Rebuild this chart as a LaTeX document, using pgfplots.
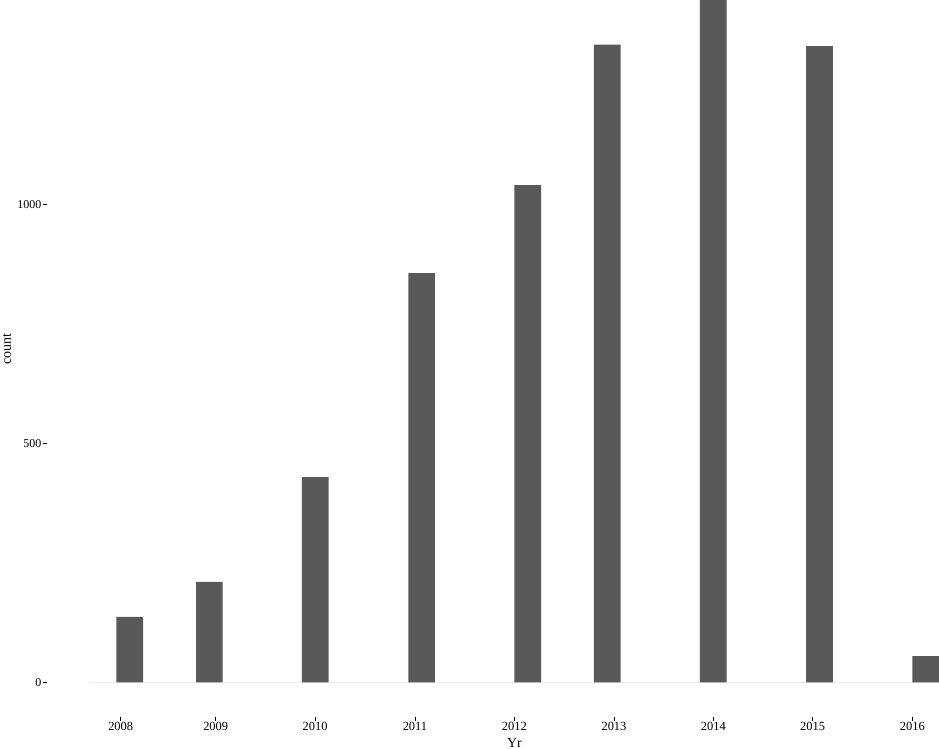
\documentclass[border=0pt]{standalone}
\usepackage{fontspec}
\setmainfont{Liberation Serif}
\usepackage{pgfplots}
\pgfplotsset{compat=1.18}
\definecolor{barfill}{HTML}{595959}
\definecolor{zeroline}{HTML}{EBEBEB}
\begin{document}
\begin{tikzpicture}[x=1bp,y=1bp]
\useasboundingbox (0,0) rectangle (939,749);
\begin{axis}[
  at={(47bp,32bp)}, anchor=south west,
  width=892bp, height=717bp, scale only axis,
  xmin=2007.255, xmax=2016.27,
  ymin=-72.6, ymax=1427.4,
  axis x line=bottom, axis y line=left,
  axis line style={draw=none},
  tick align=outside, major tick length=4bp,
  tick style={black, line width=0.8bp},
  xtick={2008,2008.96,2009.964,2010.974,2011.978,2012.985,2013.989,2014.993,2016},
  xticklabels={2008,2009,2010,2011,2012,2013,2014,2015,2016},
  ytick={0,500,1000},
  /pgf/number format/assume math mode=true,
  /pgf/number format/1000 sep={},
  tick label style={font=\fontsize{12.5}{14}\selectfont},
  xticklabel style={inner sep=1.5bp},
  yticklabel style={inner sep=1.5bp, font=\fontsize{12}{14}\selectfont},
  xlabel={Yr}, ylabel={count},
  label style={font=\fontsize{14}{16}\selectfont},
  xlabel style={at={(rel axis cs:0.524,-0.0293)}, anchor=north, inner sep=0pt},
  ylabel style={at={(rel axis cs:-0.0494,0.513)}, anchor=north, inner sep=0pt},
  clip=true,
]
\addplot[zeroline, line width=1bp, forget plot] coordinates {(2007.69,0) (2016.27,0)};
\addplot[ybar, bar width=0.27, bar shift=0, fill=barfill, draw=none] coordinates {
  (2008.091,137) (2008.896,210) (2009.967,429) (2011.041,856) (2012.113,1040)
  (2012.918,1334) (2013.989,1450) (2015.061,1331) (2016.135,55)};
\end{axis}
\end{tikzpicture}
\end{document}
